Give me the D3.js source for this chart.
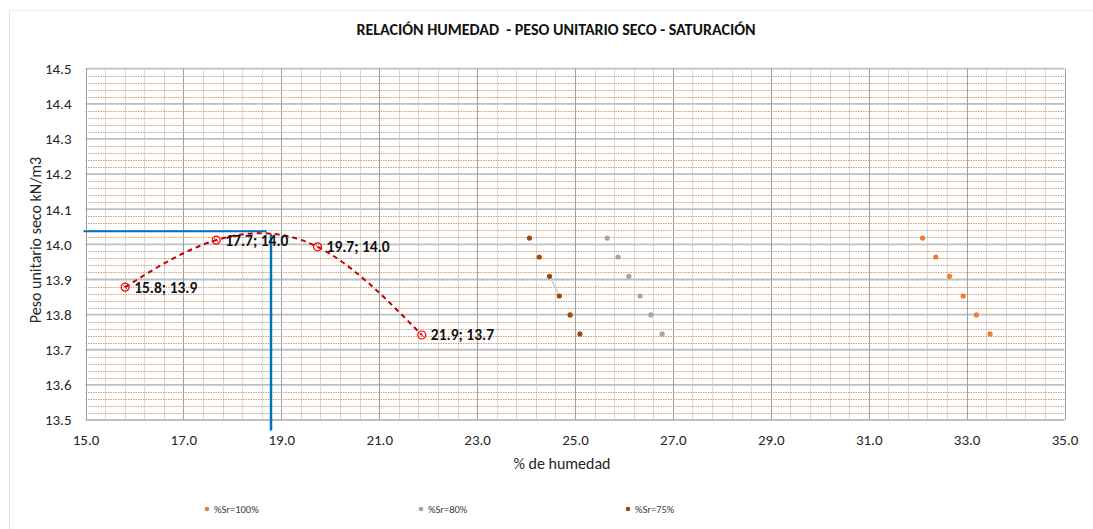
<!DOCTYPE html>
<html>
<head>
<meta charset="utf-8">
<script src="https://cdn.jsdelivr.net/npm/d3@7"></script>
<style>
  body { margin: 0; background: #fff; }
  svg { display: block; font-family: Carlito, "Liberation Sans", Arial, sans-serif; }
</style>
</head>
<body>
<svg id="chart" width="1093" height="529"></svg>
<script>
// compaction test points (humedad %, peso unitario seco kN/m3)
var compaction = [
    {w: 15.81, d: 13.878, label: "15.8; 13.9"},
    {w: 17.67, d: 14.012, label: "17.7; 14.0"},
    {w: 19.74, d: 13.993, label: "19.7; 14.0"},
    {w: 21.87, d: 13.742, label: "21.9; 13.7"}
];

// saturation curves
var satDensity = [14.018, 13.964, 13.909, 13.853, 13.799, 13.745];
var sr100 = [32.10, 32.37, 32.65, 32.93, 33.20, 33.48];
var sr80 = [25.66, 25.88, 26.10, 26.33, 26.55, 26.78];
var sr75 = [24.07, 24.27, 24.48, 24.68, 24.90, 25.10];

// optimum guide lines
var guideH = [[14.96, 14.037], [18.70, 14.037]];
var guideV = [[18.79, 14.030], [18.79, 13.47]];

var xTicks = [15, 17, 19, 21, 23, 25, 27, 29, 31, 33, 35];
var yTicks = [13.5, 13.6, 13.7, 13.8, 13.9, 14.0, 14.1, 14.2, 14.3, 14.4, 14.5];

var legendItems = [
    {name: "%Sr=100%", color: "#ed7d31"},
    {name: "%Sr=80%", color: "#a5a5a5"},
    {name: "%Sr=75%", color: "#9e480e"}
];

var svg = d3.select("#chart");
var x = d3.scaleLinear().domain([15, 35]).range([85.5, 1064.5]);
var y = d3.scaleLinear().domain([13.5, 14.5]).range([420, 68.7]);

// faint page frame
svg.append("line").attr("x1", 9.5).attr("x2", 9.5).attr("y1", 10).attr("y2", 529)
        .attr("stroke", "#e3e3e3").attr("stroke-width", 1);
svg.append("line").attr("x1", 9.5).attr("x2", 1093).attr("y1", 10.5).attr("y2", 10.5)
        .attr("stroke", "#ececec").attr("stroke-width", 1);

var grid = svg.append("g");

// minor verticals every 0.4
var vMinor = d3.range(0, 51).map(function (i) { return 15 + i * 0.4; });
grid.selectAll(".vminor").data(vMinor).enter().append("line")
        .attr("x1", function (d) { return Math.round(x(d)) + 0.5; })
        .attr("x2", function (d) { return Math.round(x(d)) + 0.5; })
        .attr("y1", y(14.5)).attr("y2", y(13.5))
        .attr("stroke", "#d9d9d9").attr("stroke-width", 1);

// dotted minor horizontals every 0.02
var hMinor = d3.range(0, 51).map(function (i) { return 13.5 + i * 0.02; })
        .filter(function (d, i) { return i % 5 !== 0; });
grid.selectAll(".hminor").data(hMinor).enter().append("line")
        .attr("x1", x(15)).attr("x2", x(35))
        .attr("y1", function (d) { return Math.round(y(d)) + 0.5; })
        .attr("y2", function (d) { return Math.round(y(d)) + 0.5; })
        .attr("stroke", "#c47a45").attr("stroke-width", 1)
        .attr("stroke-dasharray", "1.5,1").attr("opacity", 0.7);

// major horizontals
grid.selectAll(".hmajor").data(yTicks).enter().append("line")
        .attr("x1", x(15)).attr("x2", x(35))
        .attr("y1", function (d) { return y(d); })
        .attr("y2", function (d) { return y(d); })
        .attr("stroke", "#bfbfbf").attr("stroke-width", 1.8);

// major verticals
grid.selectAll(".vmajor").data(xTicks).enter().append("line")
        .attr("x1", function (d) { return Math.round(x(d)) + 0.5; })
        .attr("x2", function (d) { return Math.round(x(d)) + 0.5; })
        .attr("y1", y(14.5)).attr("y2", y(13.5))
        .attr("stroke", "#a0a0a0").attr("stroke-width", 1);

// axes
var fmt = d3.format(".1f");
var xAxis = svg.append("g").attr("transform", "translate(0," + y(13.5) + ")")
        .call(d3.axisBottom(x).tickValues(xTicks).tickFormat(fmt).tickSize(0).tickPadding(14));
var yAxis = svg.append("g").attr("transform", "translate(" + x(15) + ",0)")
        .call(d3.axisLeft(y).tickValues(yTicks).tickFormat(fmt).tickSize(0).tickPadding(14));
[xAxis, yAxis].forEach(function (a) {
    a.select(".domain").remove();
    a.selectAll("text").attr("font-size", 15).attr("fill", "#262626")
            .attr("font-family", "Carlito, 'Liberation Sans', Arial, sans-serif");
});

// saturation series
function drawSat(xs, color) {
    svg.append("g").selectAll("circle").data(xs).enter().append("circle")
            .attr("cx", function (d) { return x(d); })
            .attr("cy", function (d, i) { return y(satDensity[i]); })
            .attr("r", 2.6).attr("fill", color);
}
// stray connector seen in the 75% series
svg.append("line")
        .attr("x1", x(sr75[2])).attr("y1", y(satDensity[2]))
        .attr("x2", x(sr75[3])).attr("y2", y(satDensity[3]))
        .attr("stroke", "#d0d0d0").attr("stroke-width", 1.5);
drawSat(sr100, "#ed7d31");
drawSat(sr80, "#a5a5a5");
drawSat(sr75, "#9e480e");

// blue guide lines
var guide = d3.line().x(function (d) { return x(d[0]); }).y(function (d) { return y(d[1]); });
svg.append("path").attr("d", guide(guideH)).attr("stroke", "#0070c0").attr("stroke-width", 2).attr("fill", "none");
svg.append("path").attr("d", guide(guideV)).attr("stroke", "#0070c0").attr("stroke-width", 2.5).attr("fill", "none");

// compaction curve
var curve = d3.line().curve(d3.curveNatural)
        .x(function (d) { return x(d.w); }).y(function (d) { return y(d.d); });
svg.append("path").attr("d", curve(compaction))
        .attr("fill", "none").attr("stroke", "#c00000").attr("stroke-width", 2)
        .attr("stroke-dasharray", "5,4");

var pts = svg.append("g").selectAll("g").data(compaction).enter().append("g")
        .attr("transform", function (d) { return "translate(" + x(d.w) + "," + y(d.d) + ")"; });
pts.append("circle").attr("r", 4).attr("fill", "none").attr("stroke", "#ff0000").attr("stroke-width", 1.2);
pts.append("line").attr("x1", -2).attr("y1", -2).attr("x2", 2).attr("y2", 2)
        .attr("stroke", "#ff0000").attr("stroke-width", 1);
pts.append("text").attr("x", 9).attr("dy", "0.35em")
        .attr("font-size", 15.5).attr("font-weight", "bold").attr("fill", "#111")
        .text(function (d) { return d.label; });

// titles
svg.append("text").attr("x", 556).attr("y", 35).attr("text-anchor", "middle")
        .attr("font-size", 16).attr("font-weight", "bold").attr("fill", "#111")
        .text("RELACIÓN HUMEDAD  - PESO UNITARIO SECO - SATURACIÓN")
        .style("white-space", "pre");
svg.append("text").attr("x", 562).attr("y", 469).attr("text-anchor", "middle")
        .attr("font-size", 16).attr("fill", "#262626").text("% de humedad");
svg.append("text").attr("transform", "translate(41,240) rotate(-90)").attr("text-anchor", "middle")
        .attr("font-size", 16).attr("fill", "#262626").text("Peso unitario seco kN/m3");

// legend
var legendX = [207, 421, 628];
var lg = svg.append("g").selectAll("g").data(legendItems).enter().append("g")
        .attr("transform", function (d, i) { return "translate(" + legendX[i] + ",509)"; });
lg.append("circle").attr("r", 2.3).attr("fill", function (d) { return d.color; });
lg.append("text").attr("x", 7).attr("dy", "0.35em").attr("font-size", 10.5).attr("fill", "#404040")
        .text(function (d) { return d.name; });
</script>
</body>
</html>
